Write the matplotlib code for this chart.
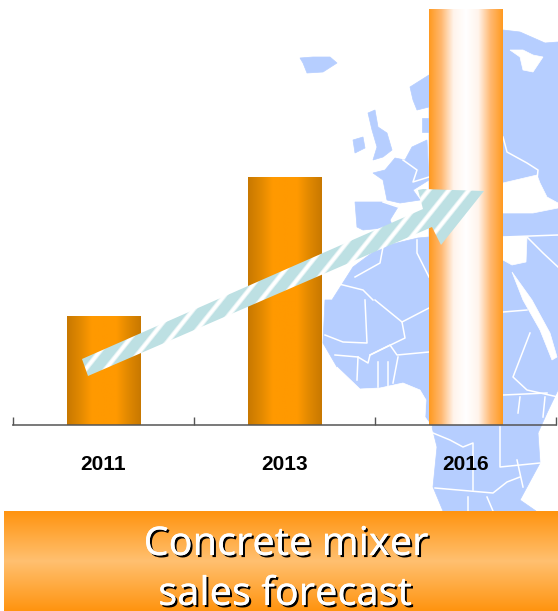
import matplotlib
matplotlib.use("Agg")
import matplotlib.pyplot as plt
import matplotlib.patheffects as pe
import numpy as np
from matplotlib.patches import Polygon

W, H = 558, 611

years = ["2011", "2013", "2016"]
sales = [26.2, 59.6, 100.0]

MAP_BLUE = "#b6ceff"
# bar shading, left edge to centre
bar_dark = ["#c87800", "#e08800", "#ff9900", "#ff9900"]
bar_light = ["#ff9a20", "#ffb870", "#fff4ec", "#ffffff"]
band_stops = ["#ff9410", "#ffc070", "#ff9410"]

# map outlines, pixel coords
main_land = [(429, 237), (418, 238), (380, 247), (353, 267), (332, 300), (325, 300), (323, 343), (337, 367),
             (360, 389), (380, 388), (403, 383), (420, 390), (426, 400), (425, 417), (432, 427), (437, 447),
             (433, 487), (443, 511), (536, 511), (520, 500), (540, 463), (538, 433), (547, 413), (558, 390),
             (558, 42), (545, 43), (520, 32), (503, 30), (503, 100), (429, 100)]
iceland = [(300, 58), (313, 57), (330, 57), (337, 63), (323, 72), (307, 73), (303, 63)]
britain = [(368, 113), (375, 110), (378, 127), (387, 133), (392, 150), (383, 157), (373, 160), (377, 147), (372, 130)]
ireland = [(353, 140), (363, 137), (365, 148), (355, 153)]
france = [(373, 173), (385, 170), (395, 158), (405, 160), (412, 147), (427, 140), (429, 180), (413, 190),
          (420, 200), (400, 203), (387, 200), (383, 180)]
spain = [(355, 202), (383, 202), (398, 207), (390, 220), (393, 227), (363, 230), (357, 227)]
norway = [(410, 87), (429, 75), (429, 107), (417, 110), (413, 100)]
denmark = [(422, 118), (429, 118), (429, 132), (422, 132)]
land_parts = [main_land, iceland, britain, ireland, france, spain, norway, denmark]

white_sea = [(510, 50), (523, 50), (533, 55), (543, 57), (533, 72), (523, 70), (520, 57)]
black_sea = [(503, 183), (537, 175), (540, 183), (547, 197), (558, 203), (558, 208), (533, 213), (503, 213)]
east_med = [(503, 237), (527, 237), (526, 262), (512, 265), (503, 260)]
red_sea = [(512, 272), (532, 300), (550, 333), (557, 357), (552, 360), (540, 330), (523, 300)]
gulf_guinea = [(337, 367), (360, 389), (380, 388), (403, 383), (420, 390), (426, 400), (425, 417), (432, 427),
               (330, 427)]
water_parts = [white_sea, black_sea, east_med, red_sea, gulf_guinea]

borders = [
    [(503, 137), (507, 152), (527, 163), (538, 170), (537, 180)],
    [(403, 160), (417, 170), (413, 182), (429, 177)],
    [(383, 202), (398, 207)],
    [(355, 277), (380, 263), (383, 247)],
    [(335, 283), (363, 290), (373, 300)],
    [(417, 240), (417, 253), (429, 277)],
    [(503, 237), (558, 235)],
    [(527, 237), (543, 253), (558, 267)],
    [(365, 300), (367, 343), (343, 342), (325, 335)],
    [(375, 300), (402, 322), (429, 308)],
    [(402, 322), (405, 338), (370, 355), (368, 363), (358, 357), (335, 355)],
    [(370, 355), (390, 345), (397, 355), (429, 352)],
    [(378, 362), (378, 387)],
    [(388, 362), (388, 387)],
    [(398, 357), (393, 383)],
    [(358, 357), (357, 380)],
    [(503, 312), (527, 310)],
    [(530, 333), (513, 377), (527, 390), (558, 397)],
    [(503, 395), (547, 393)],
    [(520, 397), (518, 413)],
    [(545, 397), (543, 417)],
    [(433, 433), (450, 440), (463, 447), (473, 443), (473, 490)],
    [(500, 427), (500, 467), (540, 463)],
    [(435, 488), (493, 493), (507, 482), (520, 477)],
    [(468, 497), (468, 511)],
    [(487, 497), (493, 511)],
    [(517, 460), (523, 487)],
]

arrow_outline = [(82, 359), (423, 209), (418, 190), (423, 189), (484, 191), (441, 245), (432, 227), (88, 376)]
ARROW_PERIOD = 20


def gradient_rgb(colors, n=256):
    rgb = np.array([matplotlib.colors.to_rgb(c) for c in colors])
    pos = np.linspace(0, 1, len(colors))
    t = np.linspace(0, 1, n)
    return np.stack([np.interp(t, pos, rgb[:, i]) for i in range(3)], axis=-1)


fig = plt.figure(figsize=(W / 100, H / 100), dpi=100, facecolor="white")

# background layer works in pixels, y pointing down
bg = fig.add_axes([0, 0, 1, 1])
bg.set_xlim(0, W)
bg.set_ylim(H, 0)
bg.axis("off")

for part in land_parts:
    bg.add_patch(Polygon(part, closed=True, fc=MAP_BLUE, ec=MAP_BLUE, lw=0.5, zorder=1))
for part in water_parts:
    bg.add_patch(Polygon(part, closed=True, fc="white", ec="white", lw=0.5, zorder=2))
for line in borders:
    xs, ys = zip(*line)
    bg.plot(xs, ys, color="white", lw=1.1, solid_joinstyle="round", zorder=3)

# chart layer
ax = fig.add_axes([13 / W, 1 - 425 / H, 543 / W, 416 / H])
ax.patch.set_visible(False)
positions = np.arange(len(years))
bars = ax.bar(positions, sales, width=0.405, color="none", zorder=2)
for bar, stops in zip(bars, [bar_dark, bar_dark, bar_light]):
    half = gradient_rgb(stops, 128)
    strip = np.concatenate([half, half[::-1]])[np.newaxis, :, :]
    x0, w = bar.get_x(), bar.get_width()
    im = ax.imshow(strip, extent=[x0, x0 + w, 0, bar.get_height()], aspect="auto", zorder=2)
    im.set_clip_path(bar)

ax.set_xlim(-0.5, 2.5)
ax.set_ylim(0, 100)
ax.set_yticks([])
ax.set_xticks(positions, years, fontsize=15, fontweight="bold", family="Liberation Sans")
ax.set_xticks([-0.5, 0.5, 1.5, 2.5], minor=True)
ax.tick_params(axis="x", which="major", length=0, pad=21.5)
ax.tick_params(axis="x", which="minor", direction="in", length=6, width=1, color="#555555")
for side in ["top", "left", "right"]:
    ax.spines[side].set_visible(False)
ax.spines["bottom"].set_color("#555555")
ax.spines["bottom"].set_alpha(0.85)
ax.spines["bottom"].set_linewidth(1.3)
ax.spines["bottom"].set_zorder(5)

# overlay for arrow and title band
top = fig.add_axes([0, 0, 1, 1])
top.patch.set_visible(False)
top.set_xlim(0, W)
top.set_ylim(H, 0)
top.axis("off")

yy, xx = np.mgrid[0:H, 0:W]
wave = 0.5 + 0.5 * np.cos(2 * np.pi * (xx + 0.8 * yy) / ARROW_PERIOD)
wave = np.clip((wave - 0.68) / 0.28, 0, 1)
stripe_rgb = np.array(matplotlib.colors.to_rgb("#bde0e3"))
stripes = stripe_rgb + (1 - stripe_rgb) * wave[..., np.newaxis]
arrow_im = top.imshow(stripes, extent=[0, W, H, 0], aspect="auto", zorder=4, interpolation="bilinear")
arrow_patch = Polygon(arrow_outline, closed=True, transform=top.transData, fc="none", ec="none")
top.add_patch(arrow_patch)
arrow_im.set_clip_path(arrow_patch)

band = gradient_rgb(band_stops, 100)[:, np.newaxis, :]
top.imshow(band, extent=[4, W, 611, 511], aspect="auto", zorder=5)
top.set_xlim(0, W)
top.set_ylim(H, 0)

shadow = [pe.withSimplePatchShadow(offset=(1.5, -1.5), shadow_rgbFace="black", alpha=1), pe.Normal()]
top.text(286, 555, "Concrete mixer", ha="center", va="baseline", color="white", fontsize=28.5,
         family="Noto Sans", path_effects=shadow, zorder=6)
top.text(285, 605, "sales forecast", ha="center", va="baseline", color="white", fontsize=28.5,
         family="Noto Sans", path_effects=shadow, zorder=6)

fig.savefig("out.png", dpi=100)
